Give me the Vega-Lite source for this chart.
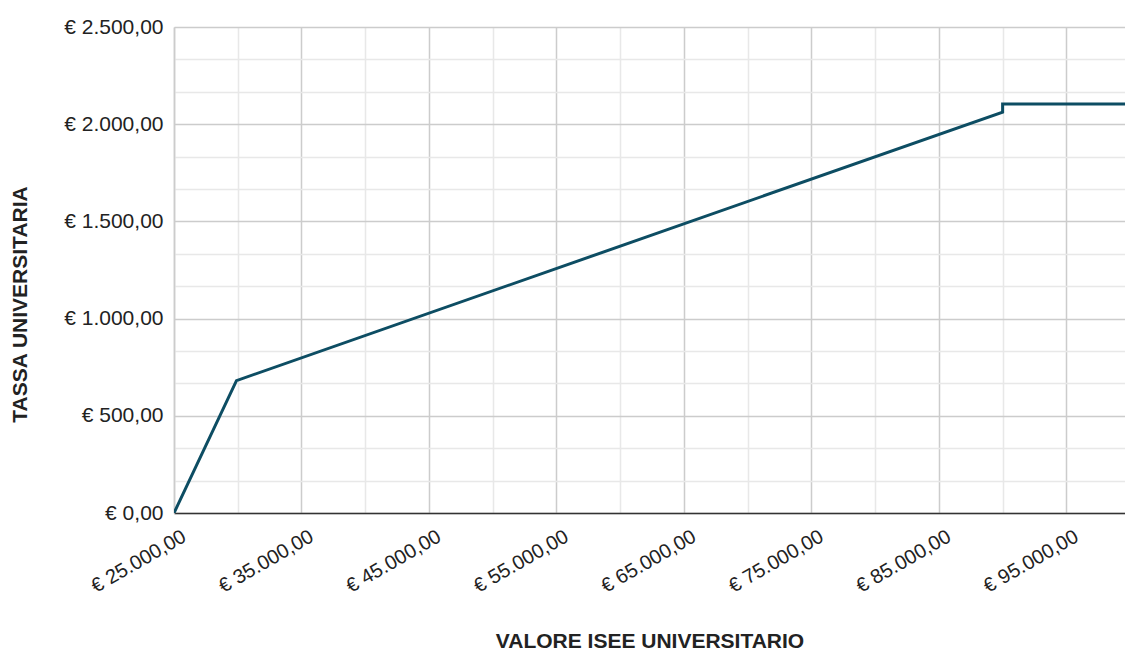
{
  "$schema": "https://vega.github.io/schema/vega-lite/v6.json",
  "width": 951,
  "height": 486,
  "autosize": {"type": "none"},
  "padding": {"left": 174, "top": 27, "right": 0, "bottom": 137},
  "background": "white",
  "data": {"values": [
    {"ord": 1, "isee": 25000, "tassa": 0},
    {"ord": 2, "isee": 29900, "tassa": 681},
    {"ord": 3, "isee": 90000, "tassa": 2062},
    {"ord": 4, "isee": 90000, "tassa": 2104},
    {"ord": 5, "isee": 99600, "tassa": 2104}
  ]},
  "mark": {"type": "line", "color": "#0d4d63", "strokeWidth": 3, "clip": true},
  "encoding": {
    "x": {
      "field": "isee", "type": "quantitative",
      "scale": {"domain": [25000, 99600], "nice": false, "zero": false},
      "axis": {
        "title": "VALORE ISEE UNIVERSITARIO",
        "values": [25000, 30000, 35000, 40000, 45000, 50000, 55000, 60000, 65000, 70000, 75000, 80000, 85000, 90000, 95000],
        "format": "$,.2f",
        "labelExpr": "(datum.value - 25000) % 10000 == 0 ? datum.label : ''",
        "labelAngle": -30,
        "labelAlign": "right",
        "labelBaseline": "top",
        "labelPadding": 13,
        "labelOffset": 5,
        "labelFontSize": 20,
        "labelFont": "Liberation Sans",
        "labelColor": "#222222",
        "labelOverlap": false,
        "labelBound": false,
        "labelFlush": false,
        "ticks": false,
        "domainColor": "#333333",
        "domainWidth": 1.5,
        "gridColor": {"condition": {"test": "(datum.value - 25000) % 10000 == 0", "value": "#cccccc"}, "value": "#e8e8e8"},
        "gridWidth": 1.5,
        "titleFont": "Liberation Sans",
        "titleFontSize": 21,
        "titleFontWeight": "bold",
        "titleColor": "#222222",
        "titleY": 128,
        "titleBaseline": "middle"
      }
    },
    "y": {
      "field": "tassa", "type": "quantitative",
      "scale": {"domain": [0, 2500], "nice": false},
      "axis": {
        "title": "TASSA UNIVERSITARIA",
        "values": [0, 166.6667, 333.3333, 500, 666.6667, 833.3333, 1000, 1166.6667, 1333.3333, 1500, 1666.6667, 1833.3333, 2000, 2166.6667, 2333.3333, 2500],
        "format": "$,.2f",
        "labelExpr": "abs(datum.value/500 - round(datum.value/500)) < 0.001 ? datum.label : ''",
        "labelFontSize": 21,
        "labelFont": "Liberation Sans",
        "labelColor": "#222222",
        "labelPadding": 11,
        "ticks": false,
        "domainColor": "#cccccc",
        "domainWidth": 1.5,
        "gridColor": {"condition": {"test": "abs(datum.value/500 - round(datum.value/500)) < 0.001", "value": "#cccccc"}, "value": "#e8e8e8"},
        "gridWidth": 1.5,
        "titleFont": "Liberation Sans",
        "titleFontSize": 21,
        "titleFontWeight": "bold",
        "titleColor": "#222222",
        "titleAngle": -90,
        "titleX": -154,
        "titleY": 277,
        "titleAlign": "center",
        "titleBaseline": "middle"
      }
    },
    "order": {"field": "ord", "type": "quantitative"}
  },
  "config": {
    "view": {"stroke": null},
    "locale": {
      "number": {"decimal": ",", "thousands": ".", "grouping": [3], "currency": ["€ ", ""]}
    }
  }
}
